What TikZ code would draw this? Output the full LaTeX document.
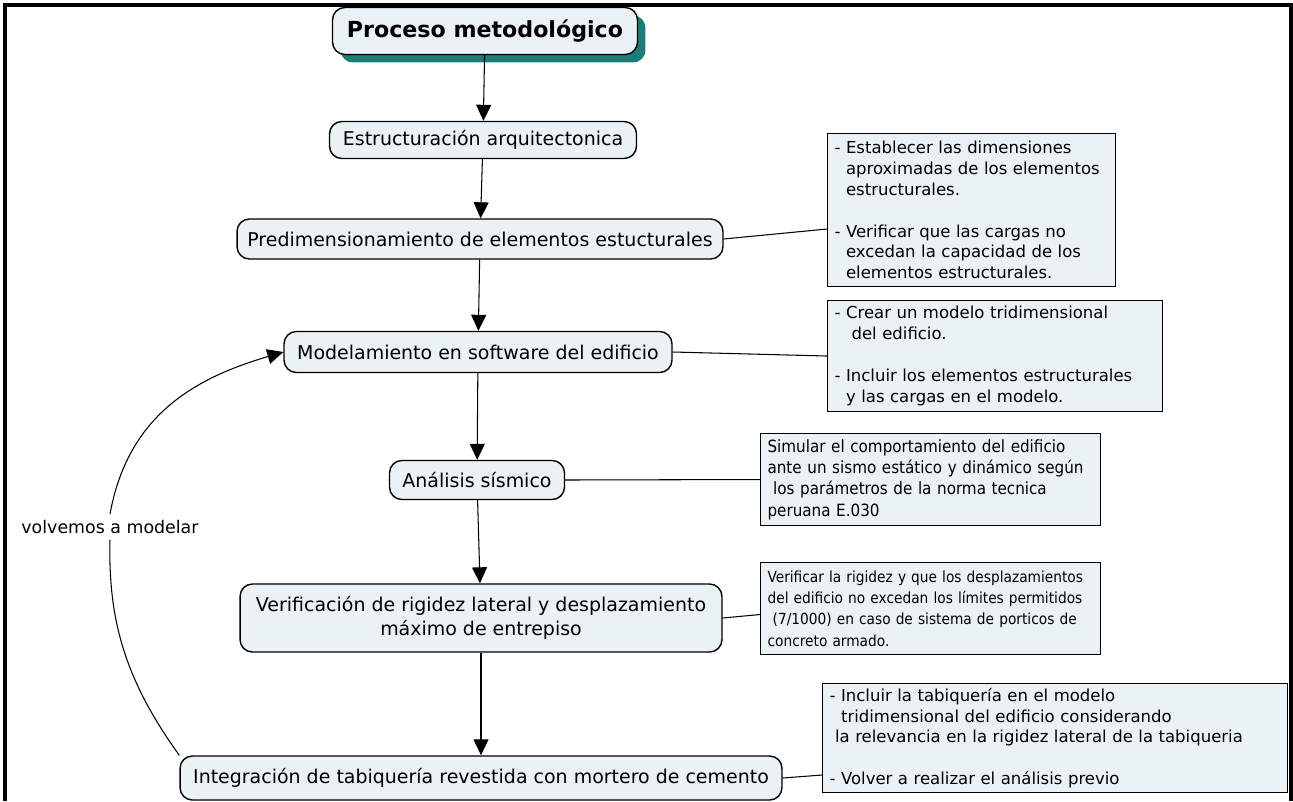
\documentclass[tikz,border=0pt]{standalone}
\usepackage{fontspec}
\setmainfont{DejaVu Sans}
\newfontfamily\estrecha{DejaVu Sans Condensed}
\usetikzlibrary{arrows.meta,positioning,shadows}

\definecolor{nodefill}{HTML}{EBF2F5}
\definecolor{sombra}{HTML}{1C7C78}

\tikzset{%
  paso/.style   = {draw, thick, rounded corners=7pt, fill=nodefill, align=center,
    inner sep=0pt, font=\fontsize{10.8}{13.6}\selectfont},
  nota/.style   = {draw, semithick, fill=nodefill, anchor=north west, align=left,
    inner xsep=4pt, inner ysep=0pt, font=\fontsize{9.4}{11.9}\selectfont},
  flecha/.style = {-{Triangle[length=0.32cm,width=0.3cm]}, semithick},
  enlace/.style = {semithick}
}

\begin{document}
\begin{tikzpicture}[x=0.02cm, y=-0.02cm]

    \useasboundingbox (0,0) rectangle (1293,801);

    % Frame
    \draw[line width=1.8pt] (5,801) -- (5,5) -- (1291,5) -- (1291,801);

    % Title
    \node[paso, minimum width=6.1cm, minimum height=0.94cm,
          font=\bfseries\fontsize{12.6}{15}\selectfont,
          drop shadow={shadow xshift=0.16cm, shadow yshift=-0.16cm, fill=sombra, opacity=1}]
        (titulo) at (485,31) {Proceso metodológico};

    % Steps
    \node[paso, minimum width=6.14cm, minimum height=0.74cm] (estruct) at (483,140)
        {Estructuración arquitectonica};
    \node[paso, minimum width=9.72cm, minimum height=0.8cm] (predim) at (480,239)
        {Predimensionamiento de elementos estucturales};
    \node[paso, minimum width=7.76cm, minimum height=0.82cm] (modelo) at (478,352)
        {Modelamiento en software del edificio};
    \node[paso, minimum width=3.5cm, minimum height=0.78cm] (analisis) at (477,480)
        {Análisis sísmico};
    \node[paso, minimum width=9.64cm, minimum height=1.36cm] (verif) at (481,618)
        {Verificación de rigidez lateral y desplazamiento\\ máximo de entrepiso};
    \node[paso, minimum width=12.04cm, minimum height=0.88cm] (integ) at (481,778)
        {Integración de tabiquería revestida con mortero de cemento};

    % Notes
    \node[nota, minimum height=3.06cm, text width=5.48cm] (nota1) at (827,133)
        {- Establecer las dimensiones\\ \phantom{- }aproximadas de los elementos\\
         \phantom{- }estructurales.\\[\baselineskip]
         - Verificar que las cargas no\\ \phantom{- }excedan la capacidad de los\\
         \phantom{- }elementos estructurales.};
    \node[nota, minimum height=2.22cm, text width=6.42cm] (nota2) at (827,300)
        {- Crear un modelo tridimensional\\ \phantom{- }\ del edificio.\\[\baselineskip]
         - Incluir los elementos estructurales\\ \phantom{- }y las cargas en el modelo.};
    \node[nota, minimum height=1.84cm, text width=6.52cm, font=\estrecha\fontsize{9.6}{12.2}\selectfont]
        (nota3) at (760,433)
        {Simular el comportamiento del edificio\\ ante un sismo estático y dinámico según\\
         \ los parámetros de la norma tecnica\\ peruana E.030};
    \node[nota, minimum height=1.84cm, text width=6.52cm, font=\estrecha\fontsize{8.7}{12.2}\selectfont]
        (nota4) at (760,562)
        {Verificar la rigidez y que los desplazamientos\\ del edificio no excedan los límites permitidos\\
         \ (7/1000) en caso de sistema de porticos de\\ concreto armado.};
    \node[nota, minimum height=2.18cm, text width=9.02cm] (nota5) at (822,683)
        {- Incluir la tabiquería en el modelo\\ \phantom{- }tridimensional del edificio considerando\\
         \ la relevancia en la rigidez lateral de la tabiqueria\\[\baselineskip]
         - Volver a realizar el análisis previo};

    % Loop label
    \node[font=\fontsize{9.9}{12}\selectfont] (volver) at (110,527) {volvemos a modelar};

    % Main flow
    \draw[flecha] (titulo) -- (estruct);
    \draw[flecha] (estruct) -- (predim);
    \draw[flecha] (predim) -- (modelo);
    \draw[flecha] (modelo) -- (analisis);
    \draw[flecha] (analisis) -- (verif);
    \draw[flecha] (verif) -- (integ);

    % Links to notes
    \draw[enlace] (predim.east) -- ([yshift=-0.38cm]nota1.west);
    \draw[enlace] (modelo.east) -- (nota2.west);
    \draw[enlace] (analisis.east) -- (nota3.west);
    \draw[enlace] (verif.east) -- ([yshift=-0.12cm]nota4.west);
    \draw[enlace] (integ.east) -- ([yshift=-0.74cm]nota5.west);

    % Loop back
    \draw[enlace] (integ.north west) .. controls (125,680) and (108,620) .. (volver.south);
    \draw[flecha] (volver.north) .. controls (128,415) and (195,378) .. (modelo.west);

\end{tikzpicture}
\end{document}
